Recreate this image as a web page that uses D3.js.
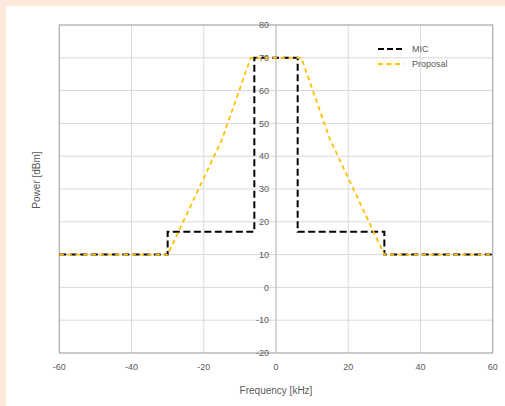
<!DOCTYPE html>
<html><head><meta charset="utf-8">
<script src="https://cdn.jsdelivr.net/npm/d3@7"></script>
<style>body{margin:0;background:#fde9db;} svg{display:block;}</style>
</head><body>
<script>
const xTicks = [-60,-40,-20,0,20,40,60];
const yTicks = [-20,-10,0,10,20,30,40,50,60,70,80];
const micFreq = [-60,-30,-30,-6,-6,6,6,30,30,60];
const micPower = [10,10,17,17,70,70,17,17,10,10];
const propFreq = [-60,-30,-15,-7,7,15,30,60];
const propPower = [10,10,45,70,70,45,10,10];
const seriesNames = ["MIC","Proposal"];
const seriesColors = ["#000000","#FFC000"];

const W=505,H=406;
const svg=d3.select("body").append("svg").attr("width",W).attr("height",H);
svg.append("rect").attr("x",0).attr("y",0).attr("width",W).attr("height",H).attr("fill","#fde9db");
svg.append("rect").attr("x",6).attr("y",6).attr("width",W-6).attr("height",H-6).attr("fill","#ffffff");

const L=59.3,R=492.7,T=25,B=353;
const x=d3.scaleLinear().domain([-60,60]).range([L,R]);
const y=d3.scaleLinear().domain([-20,80]).range([B,T]);
const font="'Liberation Sans', Arial, sans-serif";
const tc="#595959";

const g=svg.append("g");
g.selectAll(".vg").data(xTicks).join("line")
 .attr("x1",d=>x(d)).attr("x2",d=>x(d)).attr("y1",T).attr("y2",B)
 .attr("stroke","#d9d9d9").attr("stroke-width",1);
g.selectAll(".hg").data(yTicks).join("line")
 .attr("x1",L).attr("x2",R).attr("y1",d=>y(d)).attr("y2",d=>y(d))
 .attr("stroke","#d9d9d9").attr("stroke-width",1);
g.append("rect").attr("x",L).attr("y",T).attr("width",R-L).attr("height",B-T)
 .attr("fill","none").attr("stroke","#a6a6a6").attr("stroke-width",1);
g.append("line").attr("x1",x(0)).attr("x2",x(0)).attr("y1",T).attr("y2",B)
 .attr("stroke","#bfbfbf").attr("stroke-width",1);

g.selectAll(".yl").data(yTicks).join("text")
 .attr("x",x(0)-7).attr("y",d=>y(d)).attr("dy","0.35em")
 .attr("text-anchor","end").attr("font-family",font).attr("font-size",9).attr("fill",tc)
 .text(d=>d);
g.selectAll(".xl").data(xTicks).join("text")
 .attr("x",d=>x(d)).attr("y",367).attr("dy","0.35em")
 .attr("text-anchor","middle").attr("font-family",font).attr("font-size",9).attr("fill",tc)
 .text(d=>d);

svg.append("text").attr("x",x(0)).attr("y",390).attr("dy","0.35em")
 .attr("text-anchor","middle").attr("font-family",font).attr("font-size",10).attr("fill",tc)
 .text("Frequency [kHz]");
svg.append("text").attr("transform","translate(36,180) rotate(-90)").attr("dy","0.35em")
 .attr("text-anchor","middle").attr("font-family",font).attr("font-size",10).attr("fill",tc)
 .text("Power [dBm]");

const line=d3.line().x(d=>x(d[0])).y(d=>y(d[1]));
const mic=micFreq.map((f,i)=>[f,micPower[i]]);
const prop=propFreq.map((f,i)=>[f,propPower[i]]);
g.append("path").attr("d",line(mic)).attr("fill","none").attr("stroke",seriesColors[0])
 .attr("stroke-width",2).attr("stroke-dasharray","7,3.5");
g.append("path").attr("d",line(prop)).attr("fill","none").attr("stroke",seriesColors[1])
 .attr("stroke-width",1.8).attr("stroke-dasharray","4.5,3.5");

const leg=svg.append("g");
const ly=[49,64];
seriesNames.forEach((n,i)=>{
  leg.append("line").attr("x1",378).attr("x2",404).attr("y1",ly[i]).attr("y2",ly[i])
   .attr("stroke",seriesColors[i]).attr("stroke-width",i===0?2:1.8)
   .attr("stroke-dasharray",i===0?"6,3":"5,3.5");
  leg.append("text").attr("x",412).attr("y",ly[i]).attr("dy","0.35em")
   .attr("font-family",font).attr("font-size",9).attr("fill",tc).text(n);
});
</script>
</body></html>
